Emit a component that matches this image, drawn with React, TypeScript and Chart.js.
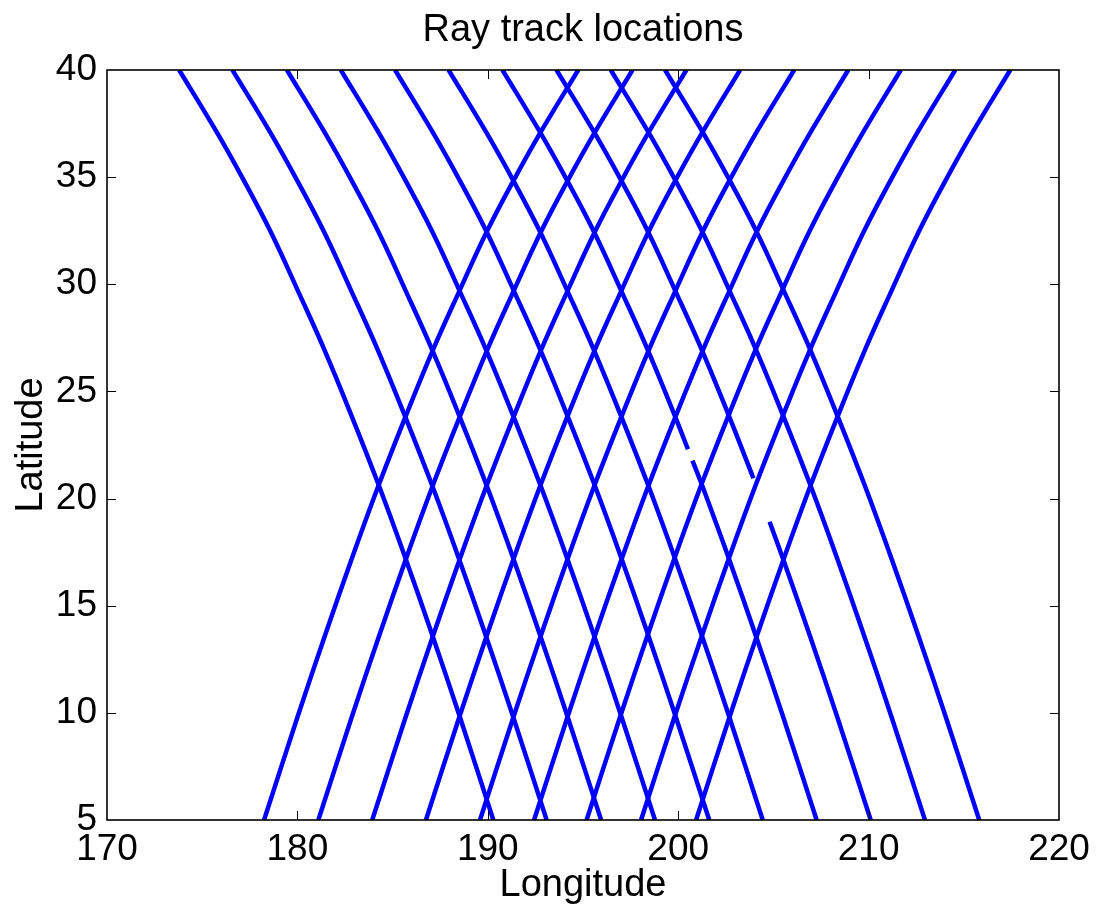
import React, { useEffect, useRef } from "react";
import { Chart, registerables } from "chart.js";

Chart.register(...registerables);

const FONT = "'Liberation Sans', Arial, Helvetica, sans-serif";

// Chart texts
const TITLE = "Ray track locations";
const X_TITLE = "Longitude";
const Y_TITLE = "Latitude";

// Axis ranges and tick steps
const X_MIN = 170;
const X_MAX = 220;
const X_STEP = 10;
const Y_MIN = 5;
const Y_MAX = 40;
const Y_STEP = 5;

// Latitudes at which the track longitudes were read
const LAT = [5, 9.82, 13.56, 17.18, 20.63, 23.85, 26.92, 29.73, 32.46, 34.87, 37.12, 40];
const LAT_B7 = [5, 9.82, 13.56, 17.18, 20.63, 21.77, null, 22.3, 23.85, 26.92, 29.73, 32.46, 34.87, 37.12, 40];
const LAT_B8 = [5, 9.82, 13.56, 17.18, 18.92, null, 20.95, 23.85, 26.92, 29.73, 32.46, 34.87, 37.12, 40];

// Tracks heading north-east ("/")
const P1 = [178.25, 180.01, 181.43, 182.85, 184.27, 185.69, 187.11, 188.53, 189.95, 191.37, 192.79, 194.75];
const P2 = [181.1, 182.86, 184.28, 185.7, 187.12, 188.54, 189.96, 191.38, 192.8, 194.22, 195.64, 197.6];
const P3 = [183.93, 185.69, 187.11, 188.53, 189.95, 191.37, 192.79, 194.21, 195.63, 197.05, 198.47, 200.43];
const P4 = [186.75, 188.51, 189.93, 191.35, 192.77, 194.19, 195.61, 197.03, 198.45, 199.87, 201.29, 203.25];
const P5 = [189.59, 191.35, 192.77, 194.19, 195.61, 197.03, 198.45, 199.87, 201.29, 202.71, 204.13, 206.09];
const P6 = [192.43, 194.19, 195.61, 197.03, 198.45, 199.87, 201.29, 202.71, 204.13, 205.55, 206.97, 208.93];
const P7 = [195.19, 196.95, 198.37, 199.79, 201.21, 202.63, 204.05, 205.47, 206.89, 208.31, 209.73, 211.69];
const P8 = [198.05, 199.81, 201.23, 202.65, 204.07, 205.49, 206.91, 208.33, 209.75, 211.17, 212.59, 214.55];
const P9 = [200.94, 202.7, 204.12, 205.54, 206.96, 208.38, 209.8, 211.22, 212.64, 214.06, 215.48, 217.44];

// Tracks heading north-west ("\")
const B1 = [190.29, 188.53, 187.11, 185.69, 184.27, 182.85, 181.43, 180.01, 178.59, 177.17, 175.75, 173.79];
const B2 = [193.09, 191.33, 189.91, 188.49, 187.07, 185.65, 184.23, 182.81, 181.39, 179.97, 178.55, 176.59];
const B3 = [195.95, 194.19, 192.77, 191.35, 189.93, 188.51, 187.09, 185.67, 184.25, 182.83, 181.41, 179.45];
const B4 = [198.78, 197.02, 195.6, 194.18, 192.76, 191.34, 189.92, 188.5, 187.08, 185.66, 184.24, 182.28];
const B5 = [201.63, 199.87, 198.45, 197.03, 195.61, 194.19, 192.77, 191.35, 189.93, 188.51, 187.09, 185.13];
const B6 = [204.44, 202.68, 201.26, 199.84, 198.42, 197.0, 195.58, 194.16, 192.74, 191.32, 189.9, 187.94];
const B7 = [207.27, 205.51, 204.09, 202.67, 201.25, 200.75, null, 200.51, 199.83, 198.41, 196.99, 195.57, 194.15, 192.73, 190.77];
const B8 = [210.11, 208.35, 206.93, 205.51, 204.8, null, 203.95, 202.67, 201.25, 199.83, 198.41, 196.99, 195.57, 193.61];
const B9 = [212.96, 211.2, 209.78, 208.36, 206.94, 205.52, 204.1, 202.68, 201.26, 199.84, 198.42, 196.46];
const B10 = [215.81, 214.05, 212.63, 211.21, 209.79, 208.37, 206.95, 205.53, 204.11, 202.69, 201.27, 199.31];

const TRACKS: { lon: (number | null)[]; lat: (number | null)[] }[] = [
  { lon: P1, lat: LAT }, { lon: P2, lat: LAT }, { lon: P3, lat: LAT },
  { lon: P4, lat: LAT }, { lon: P5, lat: LAT }, { lon: P6, lat: LAT },
  { lon: P7, lat: LAT }, { lon: P8, lat: LAT }, { lon: P9, lat: LAT },
  { lon: B1, lat: LAT }, { lon: B2, lat: LAT }, { lon: B3, lat: LAT },
  { lon: B4, lat: LAT }, { lon: B5, lat: LAT }, { lon: B6, lat: LAT },
  { lon: B7, lat: LAT_B7 }, { lon: B8, lat: LAT_B8 }, { lon: B9, lat: LAT },
  { lon: B10, lat: LAT },
];

const frameTicks = {
  id: "frameTicks",
  afterDatasetsDraw(chart: any) {
    const { ctx, chartArea: a, scales } = chart;
    const xs = scales.x;
    const ys = scales.y;
    const L = 9;
    ctx.save();
    ctx.strokeStyle = "#000";
    ctx.lineWidth = 1;
    ctx.beginPath();
    xs.ticks.forEach((t: any) => {
      if (t.value <= X_MIN || t.value >= X_MAX) return;
      const px = Math.round(xs.getPixelForValue(t.value)) + 0.5;
      ctx.moveTo(px, a.bottom);
      ctx.lineTo(px, a.bottom - L);
      ctx.moveTo(px, a.top);
      ctx.lineTo(px, a.top + L);
    });
    ys.ticks.forEach((t: any) => {
      if (t.value <= Y_MIN || t.value >= Y_MAX) return;
      const py = Math.round(ys.getPixelForValue(t.value)) + 0.5;
      ctx.moveTo(a.left, py);
      ctx.lineTo(a.left + L, py);
      ctx.moveTo(a.right, py);
      ctx.lineTo(a.right - L, py);
    });
    ctx.stroke();
    ctx.lineWidth = 1.6;
    ctx.strokeRect(a.left, a.top, a.right - a.left, a.bottom - a.top);

    // title centred over the plot area
    ctx.fillStyle = "#000";
    ctx.font = `38px ${FONT}`;
    ctx.textAlign = "center";
    ctx.textBaseline = "alphabetic";
    ctx.fillText(TITLE, (a.left + a.right) / 2, 41);
    ctx.restore();
  },
};

export default function App() {
  const ref = useRef<HTMLCanvasElement | null>(null);

  useEffect(() => {
    if (!ref.current) return;
    const datasets = TRACKS.map((t, i) => ({
      label: "track " + (i + 1),
      data: t.lon.map((lon, k) => ({ x: lon, y: t.lat[k] })),
      borderColor: "#0000ff",
      backgroundColor: "#0000ff",
      borderWidth: 4.5,
      borderCapStyle: "butt" as const,
      pointRadius: 0,
      tension: 0.4,
      spanGaps: false,
      fill: false,
      clip: 0,
    }));

    const chart = new Chart(ref.current, {
      type: "line",
      data: { datasets },
      plugins: [frameTicks],
      options: {
        animation: false,
        responsive: false,
        events: [],
        layout: { padding: { left: 0, right: 40, top: 70, bottom: 0 } },
        plugins: {
          legend: { display: false },
          tooltip: { enabled: false },
          title: { display: false },
        },
        scales: {
          x: {
            type: "linear",
            min: X_MIN,
            max: X_MAX,
            grid: { display: false, drawTicks: false },
            border: { display: false },
            ticks: {
              stepSize: X_STEP,
              color: "#000",
              padding: 8,
              maxRotation: 0,
              font: { family: FONT, size: 37 },
            },
            title: {
              display: true,
              text: X_TITLE,
              color: "#000",
              font: { family: FONT, size: 38 },
              padding: { top: 0, bottom: 5 },
            },
            afterFit(scale: any) {
              scale.height = 93;
            },
          },
          y: {
            type: "linear",
            min: Y_MIN,
            max: Y_MAX,
            grid: { display: false, drawTicks: false },
            border: { display: false },
            ticks: {
              stepSize: Y_STEP,
              color: "#000",
              padding: 10,
              font: { family: FONT, size: 37 },
            },
            title: {
              display: true,
              text: Y_TITLE,
              color: "#000",
              font: { family: FONT, size: 38 },
              padding: { top: 9, bottom: 0 },
            },
            afterFit(scale: any) {
              scale.width = 107;
            },
          },
        },
      },
    });
    return () => chart.destroy();
  }, []);

  return (
    <div style={{ position: "absolute", left: 0, top: 0, width: 1099, height: 913, background: "#fff" }}>
      <canvas ref={ref} width={1099} height={913} style={{ display: "block" }} />
    </div>
  );
}
